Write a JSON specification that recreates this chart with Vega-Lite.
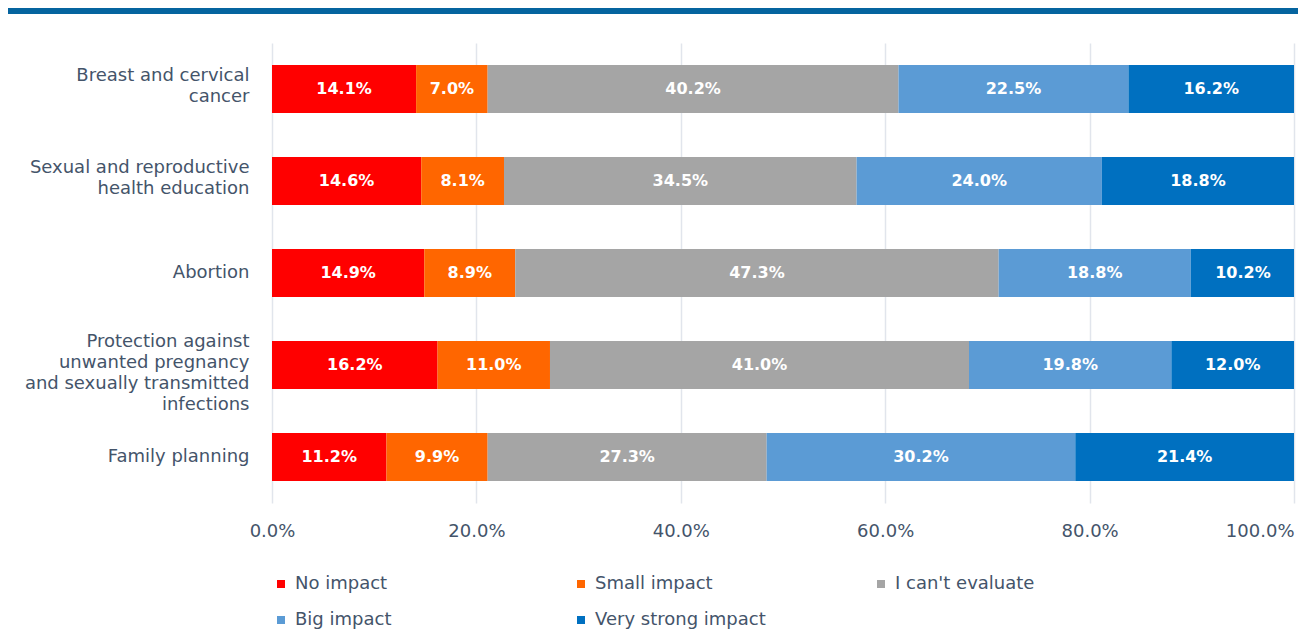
{
  "$schema": "https://vega.github.io/schema/vega-lite/v6.json",
  "padding": {"left": 8, "top": 8, "right": 8, "bottom": 0},
  "config": {"view": {"stroke": null}, "font": "DejaVu Sans"},
  "datasets": {
    "survey": [
      {"category": "Breast and cervical cancer", "impact": "No impact", "value": 0.141},
      {"category": "Breast and cervical cancer", "impact": "Small impact", "value": 0.070},
      {"category": "Breast and cervical cancer", "impact": "I can't evaluate", "value": 0.402},
      {"category": "Breast and cervical cancer", "impact": "Big impact", "value": 0.225},
      {"category": "Breast and cervical cancer", "impact": "Very strong impact", "value": 0.162},
      {"category": "Sexual and reproductive health education", "impact": "No impact", "value": 0.146},
      {"category": "Sexual and reproductive health education", "impact": "Small impact", "value": 0.081},
      {"category": "Sexual and reproductive health education", "impact": "I can't evaluate", "value": 0.345},
      {"category": "Sexual and reproductive health education", "impact": "Big impact", "value": 0.240},
      {"category": "Sexual and reproductive health education", "impact": "Very strong impact", "value": 0.188},
      {"category": "Abortion", "impact": "No impact", "value": 0.149},
      {"category": "Abortion", "impact": "Small impact", "value": 0.089},
      {"category": "Abortion", "impact": "I can't evaluate", "value": 0.473},
      {"category": "Abortion", "impact": "Big impact", "value": 0.188},
      {"category": "Abortion", "impact": "Very strong impact", "value": 0.102},
      {"category": "Protection against unwanted pregnancy and sexually transmitted infections", "impact": "No impact", "value": 0.162},
      {"category": "Protection against unwanted pregnancy and sexually transmitted infections", "impact": "Small impact", "value": 0.110},
      {"category": "Protection against unwanted pregnancy and sexually transmitted infections", "impact": "I can't evaluate", "value": 0.410},
      {"category": "Protection against unwanted pregnancy and sexually transmitted infections", "impact": "Big impact", "value": 0.198},
      {"category": "Protection against unwanted pregnancy and sexually transmitted infections", "impact": "Very strong impact", "value": 0.120},
      {"category": "Family planning", "impact": "No impact", "value": 0.112},
      {"category": "Family planning", "impact": "Small impact", "value": 0.099},
      {"category": "Family planning", "impact": "I can't evaluate", "value": 0.273},
      {"category": "Family planning", "impact": "Big impact", "value": 0.302},
      {"category": "Family planning", "impact": "Very strong impact", "value": 0.214}
    ]
  },
  "spacing": 29,
  "vconcat": [
    {
      "width": 1290,
      "height": 6,
      "data": {"values": [{"part": "top band"}]},
      "mark": {"type": "rect", "color": "#05649F"},
      "encoding": {}
    },
    {
      "spacing": 0,
      "resolve": {"legend": {"color": "independent"}},
      "hconcat": [
        {
          "width": 241,
          "height": 460,
          "data": {"name": "survey"},
          "mark": {"type": "point", "opacity": 0},
          "encoding": {
            "y": {
              "field": "category",
              "type": "nominal",
              "sort": null,
              "scale": {"paddingInner": 0.48, "paddingOuter": 0.24},
              "axis": {
                "orient": "right",
                "title": null,
                "domain": false,
                "ticks": false,
                "grid": false,
                "minExtent": 0,
                "maxExtent": 0,
                "labelAlign": "right",
                "labelPadding": 0,
                "labelFontSize": 18,
                "labelColor": "#44546A",
                "labelLimit": 0,
                "labelLineHeight": 21,
                "labelOffset": {
                  "condition": [
                    {"test": "datum.value == 'Protection against unwanted pregnancy and sexually transmitted infections'", "value": -24},
                    {"test": "datum.value == 'Breast and cervical cancer' || datum.value == 'Sexual and reproductive health education'", "value": -14}
                  ],
                  "value": -1
                },
                "labelExpr": "datum.label == 'Breast and cervical cancer' ? ['Breast and cervical','cancer'] : datum.label == 'Sexual and reproductive health education' ? ['Sexual and reproductive','health education'] : datum.label == 'Protection against unwanted pregnancy and sexually transmitted infections' ? ['Protection against','unwanted pregnancy','and sexually transmitted','infections'] : datum.label"
              }
            }
          }
        },
        {
          "width": 1022,
          "height": 460,
          "data": {"name": "survey"},
          "transform": [
            {"calculate": "indexof(['No impact','Small impact','I can\\u0027t evaluate','Big impact','Very strong impact'], datum.impact)", "as": "rank"},
            {"stack": "value", "groupby": ["category"], "sort": [{"field": "rank", "order": "ascending"}], "as": ["v0", "v1"]},
            {"calculate": "(datum.v0 + datum.v1) / 2", "as": "mid"}
          ],
          "encoding": {
            "y": {
              "field": "category",
              "type": "nominal",
              "sort": null,
              "scale": {"paddingInner": 0.48, "paddingOuter": 0.24},
              "axis": null
            }
          },
          "layer": [
            {
              "mark": {"type": "bar", "clip": true},
              "encoding": {
                "x": {
                  "field": "v0",
                  "type": "quantitative",
                  "scale": {"domain": [0, 1], "nice": false, "zero": true},
                  "axis": {
                    "title": null,
                    "values": [0, 0.2, 0.4, 0.6, 0.8, 1],
                    "format": ".1%",
                    "domain": false,
                    "ticks": false,
                    "grid": true,
                    "gridColor": "#E1E5EC",
                    "gridWidth": 1.5,
                    "labelPadding": 19,
                    "labelFontSize": 18,
                    "labelColor": "#44546A",
                    "labelFlush": false,
                    "labelAlign": {"condition": {"test": "datum.value >= 1", "value": "right"}, "value": "center"}
                  }
                },
                "x2": {"field": "v1"},
                "color": {
                  "field": "impact",
                  "type": "nominal",
                  "scale": {
                    "domain": ["No impact", "Small impact", "I can't evaluate", "Big impact", "Very strong impact"],
                    "range": ["#FF0000", "#FF6600", "#A5A5A5", "#5B9BD5", "#0070C0"]
                  },
                  "legend": {
                    "title": null,
                    "orient": "bottom",
                    "direction": "horizontal",
                    "columns": 3,
                    "gridAlign": "all",
                    "columnPadding": 106,
                    "rowPadding": 18,
                    "offset": 35,
                    "symbolType": "square",
                    "symbolSize": 64,
                    "symbolStrokeWidth": 0,
                    "labelFontSize": 18,
                    "labelColor": "#44546A",
                    "labelOffset": 5,
                    "labelLimit": 0
                  }
                }
              }
            },
            {
              "mark": {"type": "text", "color": "white", "fontWeight": "bold", "fontSize": 16},
              "encoding": {
                "x": {"field": "mid", "type": "quantitative"},
                "text": {"field": "value", "type": "quantitative", "format": ".1%"}
              }
            }
          ]
        }
      ]
    }
  ]
}
